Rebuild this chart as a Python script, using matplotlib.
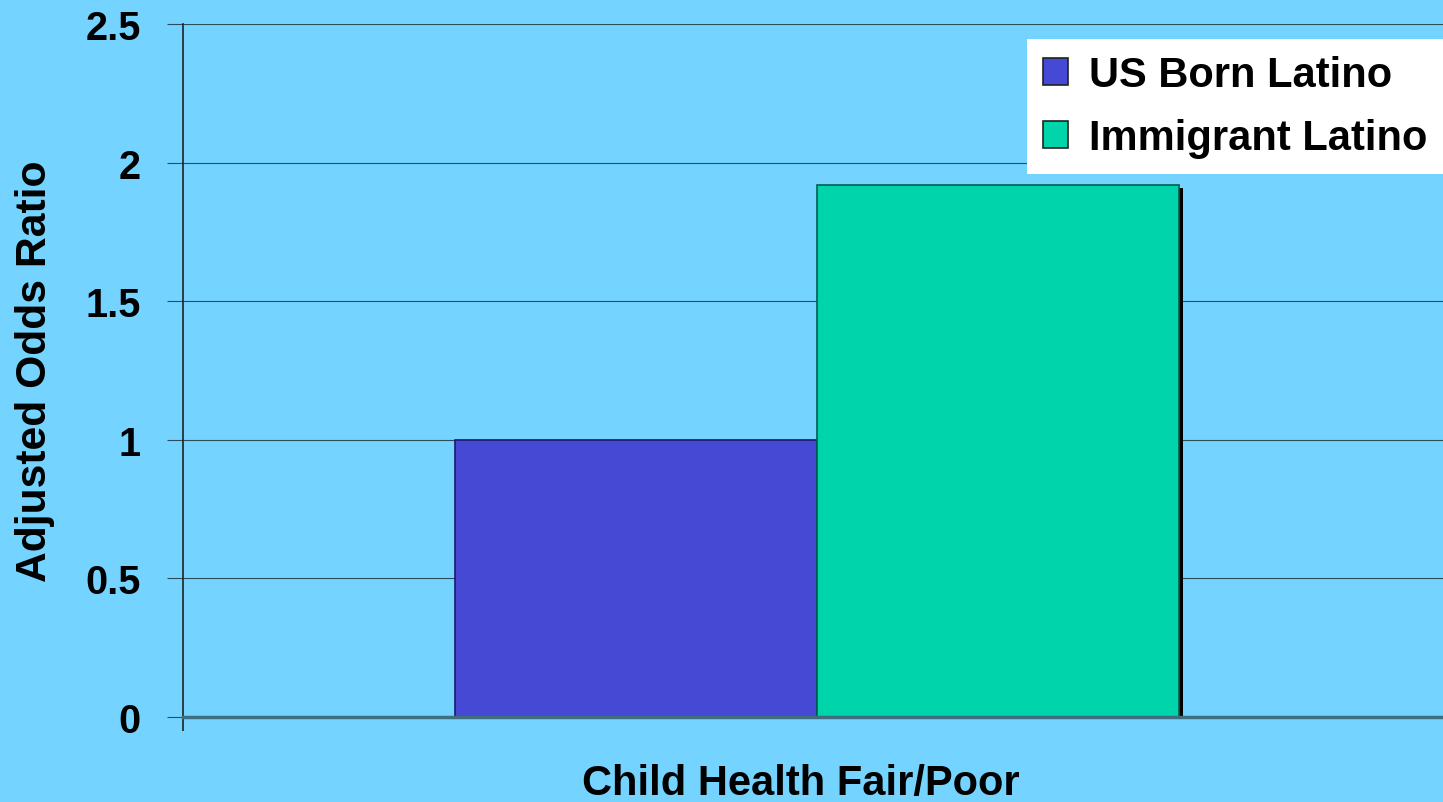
import matplotlib.pyplot as plt
from matplotlib.patches import Patch
import matplotlib.patheffects as pe

# data
category = "Child Health Fair/Poor"
groups = ["US Born Latino", "Immigrant Latino"]
odds_ratios = [1.0, 1.92]
colors = ["#4549D4", "#00D4AA"]
edges = ["#1A1A6E", "#00604F"]
yticks = [0, 0.5, 1, 1.5, 2, 2.5]

plt.rcParams['font.family'] = ['Liberation Sans', 'DejaVu Sans']
plt.rcParams['font.weight'] = 'bold'

bg = "#75D4FF"
fig = plt.figure(figsize=(14.43, 8.03), dpi=100, facecolor=bg)
ax = fig.add_axes([183 / 1443, 85 / 803, 1 - 183 / 1443, 693 / 803], facecolor=bg)

width = 0.2875
shift = 0.0032
offsets = [-width + shift, shift]
for i, (g, v) in enumerate(zip(groups, odds_ratios)):
    b = ax.bar(offsets[i], v, width=width, align='edge', color=colors[i],
               edgecolor=edges[i], linewidth=1.2, zorder=3)
    if i == 1:
        b[0].set_path_effects([pe.SimplePatchShadow(offset=(2.5, -2.5), shadow_rgbFace='black', alpha=1.0),
                               pe.Normal()])

ax.set_xlim(-0.5, 0.5)
ax.set_ylim(0, 2.5)
ax.set_yticks(yticks)
ax.set_yticklabels([f"{t:g}" for t in yticks], fontsize=28.5, fontweight='bold')
ax.tick_params(axis='y', length=11.5, width=0.8, color='#2A4E5C', pad=19)
ax.set_xticks([-0.5])
ax.set_xticklabels([""])
ax.tick_params(axis='x', length=10, width=1.2, color='#222222', direction='out')

for t in yticks[1:]:
    ax.axhline(t, color='#2A4E5C', linewidth=0.8, zorder=1)
ax.axhline(0, color='#3E6E80', linewidth=2.5, zorder=4, clip_on=False)

for s in ['top', 'right', 'bottom']:
    ax.spines[s].set_visible(False)
ax.spines['left'].set_color('#222222')
ax.spines['left'].set_linewidth(1.2)

ax.set_ylabel("Adjusted Odds Ratio", fontsize=30.7, fontweight='bold')
ax.yaxis.set_label_coords(-0.1015, 0.5)
ax.set_xlabel(category, fontsize=30, fontweight='bold')
ax.xaxis.set_label_coords(0.49, -0.066)

handles = [Patch(facecolor=c, edgecolor='#222222', linewidth=1.2) for c in colors]
leg = ax.legend(handles, groups, loc='upper right', bbox_to_anchor=(1.0, 0.978),
                borderaxespad=0, fontsize=30, frameon=True, fancybox=False,
                handlelength=0.6, handleheight=0.6, handletextpad=0.5,
                labelspacing=0.55, borderpad=0.38)
leg.get_frame().set_facecolor('white')
leg.get_frame().set_edgecolor('none')
leg.get_frame().set_alpha(1)
for txt in leg.get_texts():
    txt.set_fontweight('bold')

fig.savefig("out.png", dpi=100, facecolor=bg)
